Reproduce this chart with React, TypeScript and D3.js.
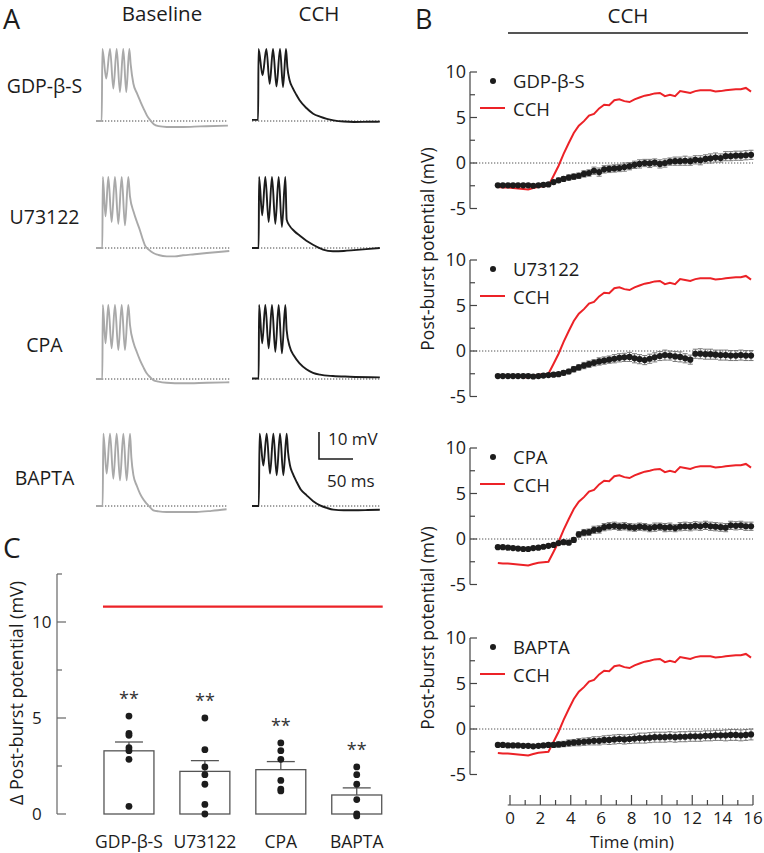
import * as d3 from 'd3';

const FONT = "'Open Sans', 'Noto Sans', Arial, sans-serif";
const RED = '#ec2227';
const INK = '#1c1c1c';
const GREY_TRACE = '#a9a9a9';

// ---------- panel A : example voltage traces, [ms, mV] relative to rest ----------
const traceLabels = ['GDP-β-S', 'U73122', 'CPA', 'BAPTA'];

const baselineTraces: [number, number][][] = [
  [[0, 0], [8.4, 0], [9.4, 26.7], [15, 15.7], [20.6, 26.7], [25.5, 12], [30.4, 26.7], [35.2, 10.7], [40.1, 26.7], [44.5, 10.7], [49, 26.7], [51, 21], [55, 13.8], [60, 10.4], [65, 7.4], [70, 4.6], [75, 2], [80, 0.2], [85, -1.2], [92, -1.9], [104, -2.2], [128, -2.2], [153, -2], [194, -1.7]],
  [[0, 0], [9.3, 0], [10, 26.3], [14, 11.7], [18.1, 26.3], [23, 9.6], [27.9, 26.3], [32.8, 9], [37.8, 26.3], [42.6, 8.4], [47.5, 26.3], [50, 19], [55.4, 13.3], [60, 9.8], [64.7, 6.5], [68, 3.8], [72, 1], [78, -0.7], [84.3, -1.85], [92, -2.6], [104, -3.1], [116, -3.1], [128, -2.7], [145, -2.3], [163, -1.85], [180, -1.5], [196, -1.1]],
  [[0, 0], [9.3, 0], [10, 27.4], [14, 13.2], [18.1, 27.4], [23, 11.4], [27.9, 27.4], [32.8, 10.7], [37.8, 27.4], [42.6, 10.7], [47.5, 27.4], [50, 20], [55.4, 13.2], [60, 10], [64.7, 7], [70, 4.2], [74.5, 2.1], [80, 0.6], [84.3, -0.4], [92, -1], [104, -1.4], [128, -1.6], [163, -1.4], [196, -1.2]],
  [[0, 0], [9.8, 0], [10.8, 26.8], [15.7, 12], [20.6, 26.8], [25.5, 10.1], [30.4, 26.8], [35.3, 9.5], [40.2, 26.8], [45.1, 9.5], [50, 26.8], [52, 18], [55, 11.4], [60, 7.5], [64.7, 4.6], [70, 2.3], [74.5, 0.86], [80, -0.6], [84.3, -1.6], [92, -2], [104, -2.2], [148, -2.2], [170, -1.8], [192, -1.2]],
];

const cchTraces: [number, number][][] = [
  [[0, 0.4], [9, 0.4], [9.6, 26.7], [15.5, 16.9], [21.1, 26.7], [26, 13.8], [30.9, 26.7], [36, 12.8], [41.2, 26.7], [45.6, 12.6], [50, 26.7], [52, 20], [55.4, 15], [60, 12.2], [65, 9.8], [70, 7.7], [80, 4.8], [90, 2.7], [100, 1.6], [110, 0.8], [120, 0.25], [135, -0.2], [150, -0.35], [170, -0.3], [188, -0.25]],
  [[0, 0], [9.8, 0], [10.4, 26.3], [15, 12.1], [19.6, 26.3], [24.5, 9.6], [29.4, 26.3], [34.3, 9], [39.2, 26.3], [44, 7.8], [49, 26.3], [51, 10.5], [55.4, 8.2], [62, 6.3], [70, 4.6], [80, 2.7], [89.7, 1.2], [97, 0.2], [104.4, -0.6], [119, -1.2], [135, -1.1], [150, -0.8], [168, -0.4], [188, 0]],
  [[0, 0.2], [9.8, 0.2], [10.4, 27.4], [15, 13.2], [19.6, 27.4], [24.5, 11.4], [29.4, 27.4], [34.3, 10.1], [39.2, 27.4], [44, 9.5], [49, 27.4], [51, 18], [55.4, 12], [62, 8.5], [70, 5.8], [80, 3.6], [89.7, 2.3], [100, 1.6], [119, 1.1], [143.6, 0.86], [188, 0.6]],
  [[0, 0], [10, 0], [11.2, 26.8], [16.7, 15], [21.6, 26.8], [26.5, 12], [31.4, 26.8], [36.3, 11.4], [41.2, 26.8], [46.1, 11.4], [51, 26.8], [53, 20], [55.9, 15], [60, 12], [65.7, 8.9], [72, 6], [80.4, 3.95], [90, 1.8], [100, 0.25], [110, -0.7], [119.6, -1.36], [135, -1.6], [149, -1.6], [170, -1.5], [188, -1.36]],
];

// ---------- panel B : time course (min) ----------
const minutes = [
  -0.8, -0.47, -0.13,
  0.2, 0.53, 0.87, 1.2, 1.53, 1.87, 2.2, 2.53, 2.87,
  3.2, 3.53, 3.87, 4.2, 4.53, 4.87, 5.2, 5.53, 5.87,
  6.2, 6.53, 6.87, 7.2, 7.53, 7.87, 8.2, 8.53, 8.87,
  9.2, 9.53, 9.87, 10.2, 10.53, 10.87, 11.2, 11.53, 11.87,
  12.2, 12.53, 12.87, 13.2, 13.53, 13.87, 14.2, 14.53, 14.87,
  15.2, 15.53, 15.87,
];

const cchControl = [
  -2.65, -2.7, -2.7,
  -2.75, -2.8, -2.85, -2.9, -2.75, -2.6, -2.55, -2.5, -1.4,
  -0.3, 1.0, 2.2, 3.3, 4.1, 4.6, 5.2, 5.4, 6.0,
  6.4, 6.35, 6.9, 7.0, 6.8, 6.7, 7.0, 7.2, 7.4,
  7.5, 7.65, 7.7, 7.35, 7.5, 7.35, 7.9, 7.8, 7.7,
  7.9, 8.0, 8.0, 8.0, 7.85, 7.9, 8.0, 8.05, 8.1,
  8.1, 8.25, 7.85,
];

const gdpMean = [
  -2.45, -2.45, -2.45,
  -2.45, -2.45, -2.45, -2.45, -2.5, -2.45, -2.4, -2.35, -2.1,
  -1.9, -1.75, -1.6, -1.5, -1.4, -1.2, -1.1, -0.85, -1.0,
  -0.7, -0.65, -0.6, -0.55, -0.45, -0.35, -0.2, -0.1, 0.0,
  -0.05, 0.05, -0.1, 0.0, 0.15, 0.2, 0.2, 0.25, 0.2,
  0.35, 0.3, 0.45, 0.5, 0.6, 0.55, 0.75, 0.75, 0.8,
  0.8, 0.85, 0.9,
];
const gdpSem = [
  0.12, 0.12, 0.12,
  0.12, 0.12, 0.12, 0.12, 0.12, 0.12, 0.15, 0.15, 0.2,
  0.25, 0.25, 0.3, 0.3, 0.3, 0.35, 0.35, 0.4, 0.45,
  0.4, 0.4, 0.4, 0.4, 0.45, 0.4, 0.4, 0.45, 0.4,
  0.45, 0.4, 0.45, 0.45, 0.4, 0.45, 0.45, 0.5, 0.45,
  0.45, 0.5, 0.45, 0.5, 0.5, 0.45, 0.5, 0.5, 0.5,
  0.5, 0.5, 0.5,
];

const u73Mean = [
  -2.75, -2.75, -2.75,
  -2.75, -2.75, -2.75, -2.75, -2.8, -2.75, -2.7, -2.65, -2.6,
  -2.55, -2.4, -2.25, -2.0, -1.8, -1.6, -1.45, -1.3, -1.15,
  -1.05, -0.95, -0.85, -0.75, -0.7, -0.65, -0.8, -0.9, -1.0,
  -0.85, -0.7, -0.55, -0.45, -0.5, -0.6, -0.65, -0.8, -0.95,
  -0.3, -0.3, -0.35, -0.35, -0.4, -0.45, -0.45, -0.5, -0.5,
  -0.45, -0.5, -0.5,
];
const u73Sem = [
  0.12, 0.12, 0.12,
  0.12, 0.12, 0.12, 0.12, 0.12, 0.12, 0.15, 0.15, 0.2,
  0.2, 0.25, 0.25, 0.3, 0.3, 0.35, 0.35, 0.35, 0.4,
  0.4, 0.4, 0.45, 0.45, 0.45, 0.5, 0.5, 0.5, 0.5,
  0.5, 0.5, 0.5, 0.55, 0.5, 0.55, 0.55, 0.5, 0.5,
  0.5, 0.55, 0.55, 0.55, 0.5, 0.55, 0.55, 0.55, 0.55,
  0.55, 0.55, 0.55,
];

const cpaMean = [
  -0.9, -0.9, -0.95,
  -1.0, -1.05, -1.1, -1.1, -1.0, -0.95, -0.85, -0.75, -0.65,
  -0.45, -0.35, -0.4, -0.1, 0.5, 0.7, 0.75, 1.0, 1.05,
  1.3, 1.4, 1.45, 1.35, 1.4, 1.3, 1.25, 1.35, 1.3,
  1.2, 1.3, 1.35, 1.25, 1.3, 1.2, 1.35, 1.4, 1.35,
  1.45, 1.4, 1.5, 1.4, 1.35, 1.3, 1.25, 1.5, 1.45,
  1.5, 1.4, 1.4,
];
const cpaSem = [
  0.12, 0.12, 0.12,
  0.12, 0.12, 0.12, 0.12, 0.12, 0.12, 0.12, 0.12, 0.15,
  0.15, 0.2, 0.2, 0.25, 0.3, 0.35, 0.35, 0.4, 0.4,
  0.4, 0.4, 0.4, 0.4, 0.4, 0.4, 0.4, 0.4, 0.4,
  0.4, 0.45, 0.4, 0.45, 0.45, 0.4, 0.45, 0.45, 0.45,
  0.45, 0.45, 0.45, 0.45, 0.45, 0.45, 0.45, 0.45, 0.45,
  0.45, 0.45, 0.45,
];

const baptaMean = [
  -1.75, -1.75, -1.8,
  -1.8, -1.8, -1.85, -1.85, -1.9, -1.85, -1.8, -1.75, -1.75,
  -1.7, -1.65, -1.55, -1.5, -1.45, -1.4, -1.35, -1.3, -1.3,
  -1.2, -1.2, -1.15, -1.1, -1.15, -1.1, -1.05, -1.0, -1.0,
  -0.95, -0.9, -0.9, -0.9, -0.85, -0.9, -0.85, -0.85, -0.8,
  -0.8, -0.8, -0.75, -0.75, -0.7, -0.7, -0.7, -0.65, -0.65,
  -0.7, -0.65, -0.6,
];
const baptaSem = [
  0.15, 0.15, 0.15,
  0.15, 0.15, 0.15, 0.15, 0.15, 0.15, 0.2, 0.2, 0.25,
  0.3, 0.3, 0.35, 0.35, 0.4, 0.4, 0.4, 0.45, 0.45,
  0.45, 0.5, 0.5, 0.5, 0.5, 0.5, 0.5, 0.55, 0.55,
  0.55, 0.55, 0.55, 0.55, 0.55, 0.55, 0.55, 0.55, 0.55,
  0.55, 0.55, 0.55, 0.55, 0.55, 0.55, 0.6, 0.6, 0.6,
  0.6, 0.6, 0.6,
];

const timeCourses = [
  { name: 'GDP-β-S', mean: gdpMean, sem: gdpSem },
  { name: 'U73122', mean: u73Mean, sem: u73Sem },
  { name: 'CPA', mean: cpaMean, sem: cpaSem },
  { name: 'BAPTA', mean: baptaMean, sem: baptaSem },
];

// ---------- panel C : change in post-burst potential ----------
const barCats = ['GDP-β-S', 'U73122', 'CPA', 'BAPTA'];
const barMeans = [3.29, 2.22, 2.31, 0.99];
const barSems = [0.46, 0.56, 0.42, 0.37];
const barPoints = [
  [5.1, 4.2, 4.1, 3.45, 3.3, 2.85, 0.4],
  [5.0, 3.35, 2.45, 2.05, 1.55, 0.5, 0.0],
  [3.7, 3.3, 2.85, 1.75, 1.3, 1.2],
  [2.45, 2.05, 1.55, 0.75, 0.0, -0.1],
];
const cchDelta = 10.8;

// ---------- layout ----------
const rowBaseY = [121, 248, 379, 506];
const rowLabelY = [93, 224, 352, 485];
const baseX0 = 96;
const cchX0 = 252;
const subTop = [72, 260, 448, 638]; // pixel of +10 mV in each panel-B plot

const traceX = d3.scaleLinear().domain([0, 50]).range([0, 34]);
const traceY = d3.scaleLinear().domain([0, 10]).range([0, -27]);
const traceLine = d3
  .line<[number, number]>()
  .x((d) => traceX(d[0]))
  .y((d) => traceY(d[1]))
  .curve(d3.curveMonotoneX);

const Trace = ({ pts, x0, y0, color }: { pts: [number, number][]; x0: number; y0: number; color: string }) => {
  const tEnd = d3.max(pts, (d) => d[0]) as number;
  return (
    <g transform={`translate(${x0},${y0})`}>
      <line x1={traceX(0)} x2={traceX(tEnd)} y1={0} y2={0} stroke="#444" strokeWidth={1} strokeDasharray="1.3 1.7" />
      <path d={traceLine(pts) || ''} fill="none" stroke={color} strokeWidth={1.9} strokeLinejoin="round" />
    </g>
  );
};

const PanelA = () => (
  <g>
    <text x={3} y={29} fontSize={27}>A</text>
    <text x={162} y={21} fontSize={20.5} textAnchor="middle">Baseline</text>
    <text x={319} y={21} fontSize={20.5} textAnchor="middle">CCH</text>
    {traceLabels.map((label, i) => (
      <g key={label}>
        <text x={44.5} y={rowLabelY[i]} fontSize={19.5} textAnchor="middle">{label}</text>
        <Trace pts={baselineTraces[i]} x0={baseX0} y0={rowBaseY[i]} color={GREY_TRACE} />
        <Trace pts={cchTraces[i]} x0={cchX0} y0={rowBaseY[i]} color={INK} />
      </g>
    ))}
    {/* scale bar */}
    <g transform="translate(319,459)" stroke={INK} strokeWidth={1.6} fill="none">
      <path d={`M0,${traceY(10)}V0H${traceX(50)}`} />
    </g>
    <text x={328} y={445} fontSize={17}>10 mV</text>
    <text x={327} y={487} fontSize={17}>50 ms</text>
  </g>
);

const tx = d3.scaleLinear().domain([0, 16]).range([510, 753]);

const TimeCourse = ({ top, name, mean, sem }: { top: number; name: string; mean: number[]; sem: number[] }) => {
  const y = d3.scaleLinear().domain([-5, 10]).range([top + 136.5, top]);
  const axX = 470;
  const redLine = d3
    .line<number>()
    .x((_, i) => tx(minutes[i]))
    .y((d) => y(d));
  return (
    <g>
      <line x1={axX} x2={axX} y1={y(-5)} y2={y(10)} stroke="#444" strokeWidth={1.2} />
      {[-5, -2.5, 0, 2.5, 5, 7.5, 10].map((v) => (
        <line key={v} x1={axX} x2={axX + (v % 5 === 0 ? 7 : 5)} y1={y(v)} y2={y(v)} stroke="#444" strokeWidth={1.2} />
      ))}
      {[-5, 0, 5, 10].map((v) => (
        <text key={v} x={axX - 4} y={y(v)} dy="0.36em" fontSize={18} textAnchor="end">{v}</text>
      ))}
      <line x1={axX} x2={tx(16)} y1={y(0)} y2={y(0)} stroke="#555" strokeWidth={1} strokeDasharray="1.3 1.7" />
      <path d={redLine(cchControl) || ''} fill="none" stroke={RED} strokeWidth={2} />
      {mean.map((m, i) => (
        <g key={i} stroke="#777" strokeWidth={1}>
          <line x1={tx(minutes[i])} x2={tx(minutes[i])} y1={y(m - sem[i])} y2={y(m + sem[i])} />
          <line x1={tx(minutes[i]) - 2.5} x2={tx(minutes[i]) + 2.5} y1={y(m - sem[i])} y2={y(m - sem[i])} />
          <line x1={tx(minutes[i]) - 2.5} x2={tx(minutes[i]) + 2.5} y1={y(m + sem[i])} y2={y(m + sem[i])} />
        </g>
      ))}
      {mean.map((m, i) => (
        <circle key={i} cx={tx(minutes[i])} cy={y(m)} r={3.1} fill={INK} />
      ))}
      {/* legend */}
      <circle cx={493} cy={top + 9} r={3} fill={INK} />
      <text x={513} y={top + 16} fontSize={18.5}>{name}</text>
      <line x1={480} x2={505} y1={top + 36} y2={top + 36} stroke={RED} strokeWidth={2} />
      <text x={513} y={top + 44} fontSize={18.5}>CCH</text>
    </g>
  );
};

const PanelB = () => (
  <g>
    <text x={415} y={29} fontSize={27}>B</text>
    <text x={628} y={23} fontSize={20.5} textAnchor="middle">CCH</text>
    <line x1={508} x2={748} y1={33} y2={33} stroke={INK} strokeWidth={1.6} />
    {timeCourses.map((tc, i) => (
      <TimeCourse key={tc.name} top={subTop[i]} name={tc.name} mean={tc.mean} sem={tc.sem} />
    ))}
    <text transform="translate(434,249) rotate(-90)" fontSize={17.5} textAnchor="middle">Post-burst potential (mV)</text>
    <text transform="translate(434,628) rotate(-90)" fontSize={17.5} textAnchor="middle">Post-burst potential (mV)</text>
    {/* time axis */}
    <line x1={tx(-0.15)} x2={tx(16)} y1={805} y2={805} stroke="#444" strokeWidth={1.2} />
    {d3.range(0, 17).map((t) => (
      <line key={t} x1={tx(t)} x2={tx(t)} y1={805} y2={805 - (t % 2 === 0 ? 10 : 5)} stroke="#444" strokeWidth={1.2} />
    ))}
    {d3.range(0, 17, 2).map((t) => (
      <text key={t} x={tx(t)} y={824} fontSize={17} textAnchor="middle">{t}</text>
    ))}
    <text x={632} y={848} fontSize={17} textAnchor="middle">Time (min)</text>
  </g>
);

const PanelC = () => {
  const y = d3.scaleLinear().domain([0, 12.5]).range([814, 574]);
  const x = d3.scaleBand<string>().domain(barCats).range([91, 394.7]).paddingInner(0.342).paddingOuter(0.171);
  const bw = x.bandwidth();
  const axX = 57;
  return (
    <g>
      <text x={3} y={558} fontSize={28}>C</text>
      <line x1={axX} x2={axX} y1={y(0)} y2={y(12.5)} stroke="#666" strokeWidth={1.2} />
      {[0, 2.5, 5, 7.5, 10, 12.5].map((v) => (
        <line key={v} x1={axX} x2={axX + (v % 5 === 0 ? 9 : 5)} y1={y(v)} y2={y(v)} stroke="#666" strokeWidth={1.2} />
      ))}
      {[0, 5, 10].map((v) => (
        <text key={v} x={32} y={y(v)} dy="0.36em" fontSize={17}>{v}</text>
      ))}
      <text transform="translate(23,693) rotate(-90)" fontSize={18} textAnchor="middle">Δ Post-burst potential (mV)</text>
      <line x1={(x(barCats[0]) as number) - 1} x2={(x(barCats[3]) as number) + bw + 1} y1={y(cchDelta)} y2={y(cchDelta)} stroke={RED} strokeWidth={2.2} />
      {barCats.map((c, i) => {
        const cx = (x(c) as number) + bw / 2;
        return (
          <g key={c}>
            <rect x={x(c)} y={y(barMeans[i])} width={bw} height={y(0) - y(barMeans[i])} fill="#fff" stroke="#555" strokeWidth={1.3} />
            <line x1={cx} x2={cx} y1={y(barMeans[i])} y2={y(barMeans[i] + barSems[i])} stroke="#555" strokeWidth={1.3} />
            <line x1={cx - 14} x2={cx + 14} y1={y(barMeans[i] + barSems[i])} y2={y(barMeans[i] + barSems[i])} stroke="#555" strokeWidth={1.3} />
            {barPoints[i].map((p, j) => (
              <circle key={j} cx={cx} cy={y(p)} r={3.4} fill={INK} />
            ))}
            <text x={cx} y={y(d3.max(barPoints[i]) as number) - 11} fontSize={18} textAnchor="middle" fill="#333">**</text>
            <text x={cx} y={848} fontSize={17.5} textAnchor="middle">{c}</text>
          </g>
        );
      })}
    </g>
  );
};

export default function App() {
  return (
    <svg
      width={764}
      height={853}
      viewBox="0 0 764 853"
      style={{ position: 'absolute', left: 0, top: 0, background: '#fff' }}
      fontFamily={FONT}
      fill={INK}
    >
      <rect width={764} height={853} fill="#fff" />
      <PanelA />
      <PanelB />
      <PanelC />
    </svg>
  );
}
